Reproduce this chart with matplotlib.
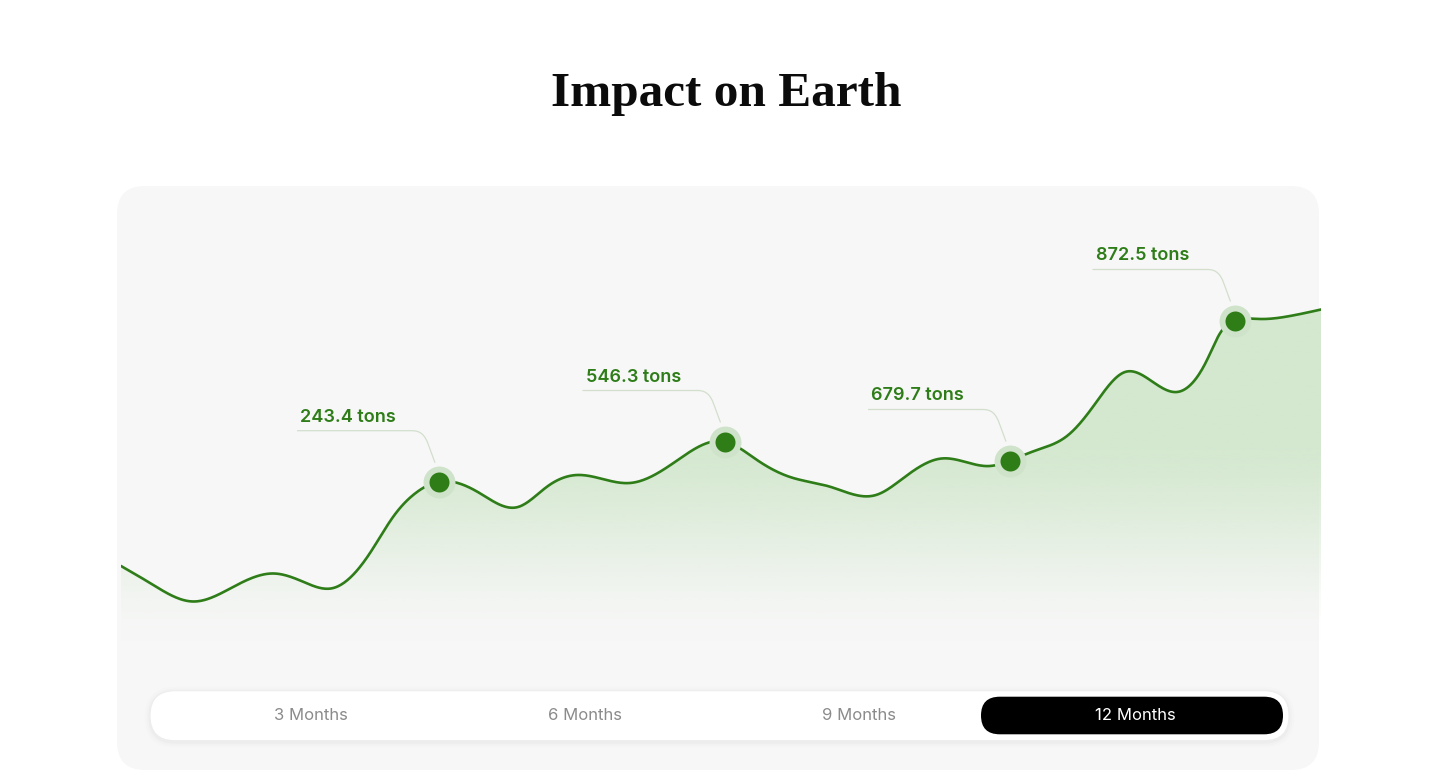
import numpy as np
import matplotlib
matplotlib.use("Agg")
import matplotlib.pyplot as plt
from matplotlib.patches import FancyBboxPatch, PathPatch, Polygon
from matplotlib.path import Path
import matplotlib.transforms as mtransforms

# ---------------- data ----------------
title = "Impact on Earth"
months = [0.00, 0.29, 0.72, 1.12, 1.53, 1.82, 2.11, 2.49, 2.72, 2.96, 3.18,
          3.59, 3.97, 4.26, 4.56, 5.09, 5.52, 6.035, 6.36, 6.69, 7.09, 7.55,
          7.82, 8.205, 8.69, 8.89, 9.16, 9.46, 9.72, 10.04, 10.29, 10.56,
          10.86, 10.99, 11.135, 11.39, 11.69, 12.00]
impact = [124.0, 107.0, 88.5, 103.0, 116.5, 108.3, 101.7, 137.0, 173.0, 198.0, 208.3,
          196.7, 183.0, 203.3, 215.0, 207.0, 226.7, 248.5, 230.0, 213.0, 203.3, 195.0,
          211.7, 231.5, 224.0, 229.5, 240.0, 254.0, 283.3, 318.0, 310.0, 298.0,
          330.0, 356.7, 369.5, 371.0, 374.0, 380.5]
marker_months = [3.18, 6.035, 8.89, 11.135]
marker_values = [208.3, 248.5, 229.5, 369.5]
marker_labels = ["243.4 tons", "546.3 tons", "679.7 tons", "872.5 tons"]
periods = ["3 Months", "6 Months", "9 Months", "12 Months"]
selected_period = "12 Months"

# ---------------- styles ----------------
W, H = 1440, 784
LINE = "#2e7d18"
DOT = "#2f7d16"
HALO = "#cfe3ca"
FILL = np.array([0xd4, 0xe8, 0xcf]) / 255.0
PANEL = "#f7f7f7"
TEXT_FONT = ["Inter", "DejaVu Sans"]


def natural_spline(x, y, xs):
    x = np.asarray(x, float)
    y = np.asarray(y, float)
    n = len(x)
    h = np.diff(x)
    A = np.zeros((n, n))
    r = np.zeros(n)
    A[0, 0] = 1.0
    A[-1, -1] = 1.0
    for i in range(1, n - 1):
        A[i, i - 1] = h[i - 1]
        A[i, i] = 2 * (h[i - 1] + h[i])
        A[i, i + 1] = h[i]
        r[i] = 3 * ((y[i + 1] - y[i]) / h[i] - (y[i] - y[i - 1]) / h[i - 1])
    c = np.linalg.solve(A, r)
    b = (y[1:] - y[:-1]) / h - h * (2 * c[:-1] + c[1:]) / 3
    d = (c[1:] - c[:-1]) / (3 * h)
    idx = np.clip(np.searchsorted(x, xs) - 1, 0, n - 2)
    dx = xs - x[idx]
    return y[idx] + b[idx] * dx + c[idx] * dx ** 2 + d[idx] * dx ** 3


fig = plt.figure(figsize=(W / 100, H / 100), dpi=100)
fig.patch.set_facecolor("white")

# background / decoration axes in pixel space
bg = fig.add_axes([0, 0, 1, 1], zorder=0)
bg.set_xlim(0, W)
bg.set_ylim(H, 0)
bg.axis("off")

panel = FancyBboxPatch((117, 186), 1202, 584, boxstyle="round,pad=0,rounding_size=28",
                       facecolor=PANEL, edgecolor="none")
bg.add_patch(panel)

fig.text(726 / W, 1 - 106 / H, title, ha="center", va="baseline",
         fontsize=35.5, fontweight="bold", family=["Liberation Serif", "DejaVu Serif"],
         color="#0b0b0b")

# ---------------- main chart axes ----------------
ax = fig.add_axes([121 / W, (H - 690) / H, 1200 / W, 504 / H], zorder=2)
ax.set_xlim(0, 12)
ax.set_ylim(0, 504)
ax.axis("off")
ax.patch.set_alpha(0)

xs = np.linspace(months[0], months[-1], 1200)
ys = natural_spline(months, impact, xs)

poly = Polygon(np.column_stack([np.r_[xs, xs[-1], xs[0]], np.r_[ys, 0, 0]]),
               closed=True, facecolor="none", edgecolor="none")
ax.add_patch(poly)

vv = np.linspace(0, 504, 400)
py = 690 - vv
t = np.clip((650 - py) / (650 - 430), 0, 1)
alpha = t * t * (3 - 2 * t)
grad = np.zeros((len(vv), 1, 4))
grad[:, 0, :3] = FILL
grad[:, 0, 3] = alpha
im = ax.imshow(grad, extent=[0, 12, 0, 504], origin="lower", aspect="auto",
               interpolation="bilinear", zorder=1)
im.set_clip_path(poly)

ax.plot(xs, ys, color=LINE, lw=1.9, solid_capstyle="round", zorder=3)

for mx, mv, lab in zip(marker_months, marker_values, marker_labels):
    verts = [(-142, 51), (-27, 51), (-18, 51), (-14, 46), (-11, 38), (-4, 19)]
    codes = [Path.MOVETO, Path.LINETO, Path.CURVE4, Path.CURVE4, Path.CURVE4, Path.LINETO]
    tr = mtransforms.Affine2D() + mtransforms.ScaledTranslation(mx, mv, ax.transData)
    ax.add_patch(PathPatch(Path(verts, codes), facecolor="none", edgecolor="#d2dfcd",
                           lw=0.9, transform=tr, zorder=2))
    ax.plot([mx], [mv], "o", ms=23, color=HALO, mec="none", zorder=4)
    ax.plot([mx], [mv], "o", ms=14.4, color=DOT, mec="none", zorder=5)
    ax.annotate(lab, xy=(mx, mv), xytext=(-139, 60), textcoords="offset pixels",
                ha="left", va="baseline", fontsize=13, fontweight="semibold",
                family=TEXT_FONT, color=LINE, zorder=6)

# ---------------- segmented control ----------------
ctl = fig.add_axes([0, 0, 1, 1], zorder=3)
ctl.set_xlim(0, W)
ctl.set_ylim(H, 0)
ctl.axis("off")
ctl.patch.set_alpha(0)

for k, a in enumerate([0.018, 0.012, 0.008]):
    pad = 1.5 + 2 * k
    ctl.add_patch(FancyBboxPatch((150 - pad, 690.7 - pad + 1.5), 1139 + 2 * pad, 50 + 2 * pad,
                                 boxstyle=f"round,pad=0,rounding_size={25 + pad}",
                                 facecolor="black", alpha=a, edgecolor="none"))
ctl.add_patch(FancyBboxPatch((150, 690.7), 1139, 50, boxstyle="round,pad=0,rounding_size=25",
                             facecolor="white", edgecolor="#ededed", lw=0.8))

centers = [311, 585, 859, 1135]
for cx, p in zip(centers, periods):
    sel = p == selected_period
    if sel:
        ctl.add_patch(FancyBboxPatch((981, 696.7), 302, 37.6,
                                     boxstyle="round,pad=0,rounding_size=18.8",
                                     facecolor="black", edgecolor="none"))
    ctl.text(cx, 715.5, p, ha="center", va="center", fontsize=12,
             family=TEXT_FONT, color="white" if sel else "#8b8b8b")

fig.savefig("out.png", dpi=100, facecolor="white")
